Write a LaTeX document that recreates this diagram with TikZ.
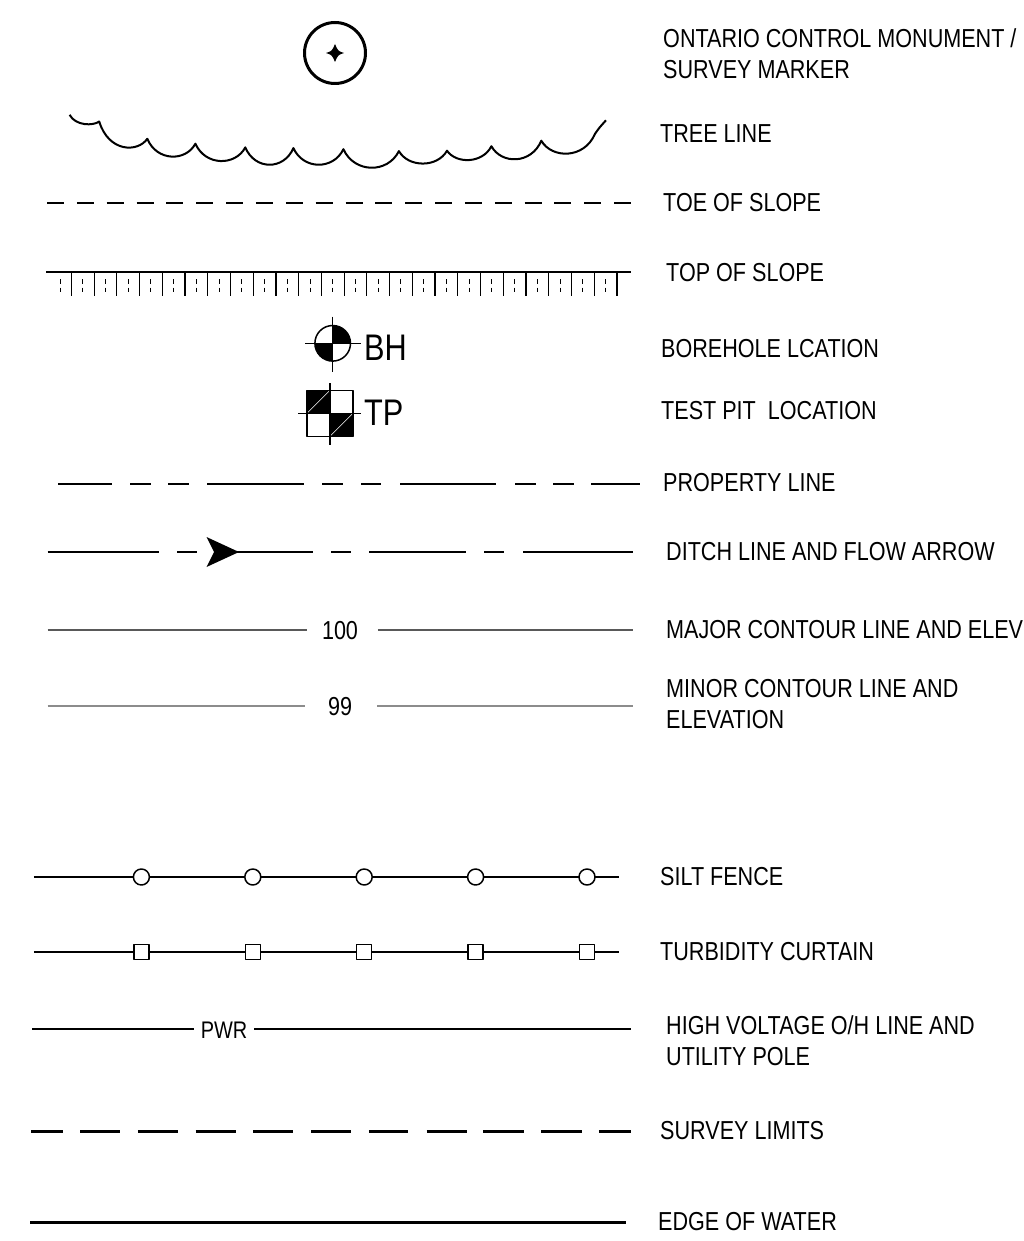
\documentclass[tikz,border=0pt]{standalone}
\usepackage{fontspec}
\setmainfont{Liberation Sans}[FakeStretch=0.83]
\usetikzlibrary{calc}
\begin{document}
\begin{tikzpicture}[x=1pt,y=-1pt,line join=round]
\tikzset{
  lbl/.style={anchor=west,inner sep=0pt,align=left,font=\fontsize{26}{31}\selectfont},
  elev/.style={inner sep=0pt,font=\fontsize{26}{30}\selectfont},
  symtxt/.style={anchor=west,inner sep=0pt,font=\fontsize{37}{40}\selectfont},
  thick2/.style={line width=2pt},
  heavy/.style={line width=3pt},
  thinln/.style={line width=1.5pt},
  post/.style={draw,line width=1.5pt,fill=white,inner sep=0pt},
}
\useasboundingbox (0,0) rectangle (1023,1241);

% ---- labels ----
\node[lbl] (l1) at (663,53.5) {ONTARIO CONTROL MONUMENT /\\SURVEY MARKER};
\node[lbl] (l2) at (660,134) {TREE LINE};
\node[lbl] (l3) at (663,203) {TOE OF SLOPE};
\node[lbl] (l4) at (666,273) {TOP OF SLOPE};
\node[lbl] (l5) at (661,349) {BOREHOLE LCATION};
\node[lbl] (l6) at (661,411) {TEST PIT\ \ LOCATION};
\node[lbl] (l7) at (663,483) {PROPERTY LINE};
\node[lbl] (l8) at (666,552) {DITCH LINE AND FLOW ARROW};
\node[lbl] (l9) at (666,630) {MAJOR CONTOUR LINE AND ELEV};
\node[lbl] (l10) at (666,704) {MINOR CONTOUR LINE AND\\ELEVATION};
\node[lbl] (l11) at (660,877) {SILT FENCE};
\node[lbl] (l12) at (660,952) {TURBIDITY CURTAIN};
\node[lbl] (l13) at (666,1040.5) {HIGH VOLTAGE O/H LINE AND\\UTILITY POLE};
\node[lbl] (l14) at (660,1131) {SURVEY LIMITS};
\node[lbl] (l15) at (658,1222) {EDGE OF WATER};

% ---- monument ----
\node[circle,draw,line width=3pt,minimum size=61pt,inner sep=0pt] (mon) at (335,53) {};
\fill (344,53) .. controls (338,55) .. (335,62) .. controls (332,55) .. (326,53)
      .. controls (332,51) .. (335,44) .. controls (338,51) .. (344,53) -- cycle;

% ---- tree line ----
\draw[thick2] (69.6,114.8)
  .. controls (75.5,126) and (93.3,126) .. (99.2,121.5)
  .. controls (108.8,152.6) and (137.7,152.6) .. (147.3,138.8)
  .. controls (156.9,161.7) and (185.8,161.7) .. (195.4,143.7)
  .. controls (205.4,166.2) and (235.3,166.2) .. (245.3,147.4)
  .. controls (254.9,170.4) and (283.8,170.4) .. (293.4,148.1)
  .. controls (303.4,170.1) and (333.4,170.1) .. (343.4,149.2)
  .. controls (354.5,173.6) and (387.8,173.6) .. (398.9,151.1)
  .. controls (408.5,167.8) and (437.4,167.8) .. (447,150.7)
  .. controls (455.9,163.9) and (482.5,163.9) .. (491.4,146.2)
  .. controls (501.4,164.5) and (531.3,164.5) .. (541.3,140.7)
  .. controls (552,159) and (584.2,159) .. (594.9,134)
  .. controls (599,128) .. (606,120.3);

% ---- toe of slope ----
\draw[thick2,dash pattern=on 17pt off 12.85pt] (47,203) -- (632,203);

% ---- top of slope ----
\draw[thick2] (46,272) -- (631,272);
\foreach \i in {0,...,24}{
  \draw[line width=1.2pt] ({71.4+22.73*\i},272) -- ({71.4+22.73*\i},296);
  \draw[line width=1pt] ({60+22.73*\i},279) -- ({60+22.73*\i},283.5)
                         ({60+22.73*\i},287.5) -- ({60+22.73*\i},292);
}

% ---- borehole ----
\coordinate (bh) at (332.7,343.3);
\fill (bh) -- ++(-17.8,0) arc[start angle=180,end angle=270,radius=17.8pt] -- cycle;
\fill (bh) -- ++(17.8,0) arc[start angle=0,end angle=90,radius=17.8pt] -- cycle;
\foreach \d in {4,8,12}{
  \draw[white,line width=0.5pt] ($(bh)+(-16,-\d)$) .. controls ($(bh)+(-10,-\d-1)$) and ($(bh)+(-6,-\d+1)$) .. ($(bh)+(0,-\d)$);
  \draw[white,line width=0.5pt] ($(bh)+(0,\d)$) .. controls ($(bh)+(6,\d-1)$) and ($(bh)+(10,\d+1)$) .. ($(bh)+(16,\d)$);
}
\draw[line width=1.5pt] (bh) circle[radius=17.8pt];
\draw[line width=1.5pt] ($(bh)+(0,-26.6)$) -- ($(bh)+(0,28.4)$)
                        ($(bh)+(-27.7,0)$) -- ($(bh)+(28,0)$);
\node[symtxt] (bht) at (364,348) {BH};

% ---- test pit ----
\coordinate (tp) at (330,413.3);
\fill ($(tp)+(-23,-23)$) rectangle (tp);
\fill (tp) rectangle ($(tp)+(23,23)$);
\draw[white,line width=0.6pt] ($(tp)+(-23,0)$) -- ($(tp)+(0,-23)$);
\draw[white,line width=0.6pt] ($(tp)+(0,23)$) -- ($(tp)+(23,0)$);
\draw[line width=1.5pt] ($(tp)+(-23,-23)$) rectangle ($(tp)+(23,23)$);
\draw[line width=1.5pt] ($(tp)+(0,-30)$) -- ($(tp)+(0,32)$)
                        ($(tp)+(-32,0)$) -- ($(tp)+(31,0)$);
\node[symtxt] (tpt) at (364,413) {TP};

% ---- property line ----
\foreach \a/\b in {58/112,130/151,168/189,207/304,322/343,361/381,400/496,515/536,553/574,591/640}
  \draw[line width=2.5pt] (\a,484) -- (\b,484);

% ---- ditch line ----
\foreach \a/\b in {47.7/158.6,177/197,237/312.5,331/351,369/466,484/504,523/633}
  \draw[thick2] (\a,552) -- (\b,552);
\fill (239,552) -- (206.5,537) -- (214,552) -- (206.5,567) -- cycle;

% ---- contours ----
\node[elev] (c100) at (340,631) {100};
\draw[thinln,black!65] (47.7,630) -- (306.7,630) (377.8,630) -- (633,630);
\node[elev] (c99) at (340,707) {99};
\draw[thinln,black!45] (47.7,706) -- (305,706) (377,706) -- (633,706);

% ---- silt fence ----
\draw[thinln] (33.8,877) -- (619,877);
\foreach \i in {0,...,4}
  \node[post,circle,minimum width=15pt,minimum height=16pt] (sf\i) at ({141.4+111.4*\i},877) {};
% ---- turbidity curtain ----
\draw[thinln] (33.8,952) -- (619,952);
\foreach \i in {0,...,4}
  \node[post,rectangle,minimum size=15pt] (tc\i) at ({141.4+111.4*\i},952) {};

% ---- PWR ----
\node[elev,font=\fontsize{24}{28}\selectfont] (pwr) at (224,1030) {PWR};
\draw[thinln] (32,1029) -- (194,1029) (254,1029) -- (631,1029);

% ---- survey limits ----
\foreach \a/\b in {31/62.7,80/119.6,137.8/178,195.6/236,253.3/292.8,311/351.4,368.8/408.3,426.5/466.8,483.4/523.8,541/581.5,598.9/631}
  \draw[heavy] (\a,1131) -- (\b,1131);

% ---- edge of water ----
\draw[heavy] (30,1222) -- (626,1222);
\end{tikzpicture}
\end{document}
